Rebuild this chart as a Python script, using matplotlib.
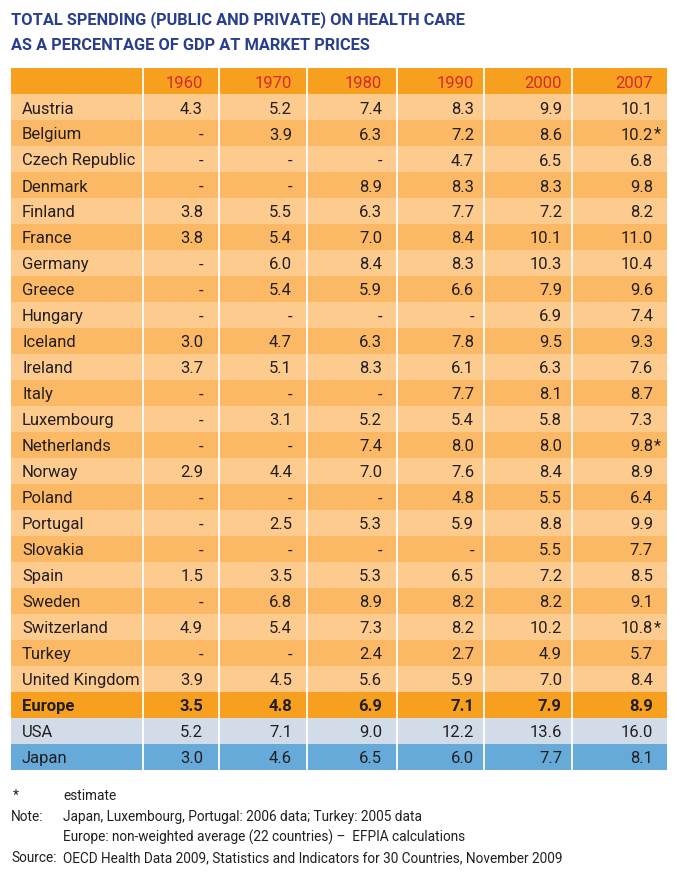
import matplotlib
matplotlib.use("Agg")
import matplotlib.pyplot as plt
from matplotlib.patches import Rectangle

years = ["1960", "1970", "1980", "1990", "2000", "2007"]
countries = ["Austria", "Belgium", "Czech Republic", "Denmark", "Finland", "France",
             "Germany", "Greece", "Hungary", "Iceland", "Ireland", "Italy", "Luxembourg",
             "Netherlands", "Norway", "Poland", "Portugal", "Slovakia", "Spain", "Sweden",
             "Switzerland", "Turkey", "United Kingdom"]
v1960 = [4.3, None, None, None, 3.8, 3.8, None, None, None, 3.0, 3.7, None, None,
         None, 2.9, None, None, None, 1.5, None, 4.9, None, 3.9]
v1970 = [5.2, 3.9, None, None, 5.5, 5.4, 6.0, 5.4, None, 4.7, 5.1, None, 3.1,
         None, 4.4, None, 2.5, None, 3.5, 6.8, 5.4, None, 4.5]
v1980 = [7.4, 6.3, None, 8.9, 6.3, 7.0, 8.4, 5.9, None, 6.3, 8.3, None, 5.2,
         7.4, 7.0, None, 5.3, None, 5.3, 8.9, 7.3, 2.4, 5.6]
v1990 = [8.3, 7.2, 4.7, 8.3, 7.7, 8.4, 8.3, 6.6, None, 7.8, 6.1, 7.7, 5.4,
         8.0, 7.6, 4.8, 5.9, None, 6.5, 8.2, 8.2, 2.7, 5.9]
v2000 = [9.9, 8.6, 6.5, 8.3, 7.2, 10.1, 10.3, 7.9, 6.9, 9.5, 6.3, 8.1, 5.8,
         8.0, 8.4, 5.5, 8.8, 5.5, 7.2, 8.2, 10.2, 4.9, 7.0]
v2007 = [10.1, 10.2, 6.8, 9.8, 8.2, 11.0, 10.4, 9.6, 7.4, 9.3, 7.6, 8.7, 7.3,
         9.8, 8.9, 6.4, 9.9, 7.7, 8.5, 9.1, 10.8, 5.7, 8.4]
estimate_2007 = ["Belgium", "Netherlands", "Switzerland"]

summary_rows = ["Europe", "USA", "Japan"]
europe = [3.5, 4.8, 6.9, 7.1, 7.9, 8.9]
usa = [5.2, 7.1, 9.0, 12.2, 13.6, 16.0]
japan = [3.0, 4.6, 6.5, 6.0, 7.7, 8.1]

title_lines = ["TOTAL SPENDING (PUBLIC AND PRIVATE) ON HEALTH CARE",
               "AS A PERCENTAGE OF GDP AT MARKET PRICES"]
footnotes = [("*", "estimate"),
             ("Note:", "Japan, Luxembourg, Portugal: 2006 data; Turkey: 2005 data"),
             ("", "Europe: non-weighted average (22 countries) \u2013  EFPIA calculations"),
             ("Source:", "OECD Health Data 2009, Statistics and Indicators for 30 Countries, November 2009")]

# ---- styling / layout ----
FONT = "Roboto"
W, H = 682, 878
col_edges = [11, 143, 219, 307, 397, 484, 572, 667]
num_right = [203, 292, 382, 474, 562, 653]
top = 69
row_h = 26
C_HEAD = "#F7A01F"
C_LIGHT = "#FECB8E"
C_DARK = "#FCB965"
C_EUROPE = "#F7A01F"
C_USA = "#D2DCE8"
C_JAPAN = "#66AADA"
C_TEXT = "#231F20"
C_YEAR = "#D7282F"
C_TITLE = "#2A3F8C"

fig = plt.figure(figsize=(W / 100, H / 100), dpi=100)
ax = fig.add_axes([0, 0, 1, 1])
ax.set_xlim(0, W)
ax.set_ylim(H, 0)
ax.axis("off")

def fmt(v):
    return "-" if v is None else f"{v:.1f}"

# title
for i, t in enumerate(title_lines):
    ax.text(11, 20 + i * 25, t, fontsize=11.8, fontweight="bold", color=C_TITLE,
            family=FONT, va="center", ha="left")

# header
ax.add_patch(Rectangle((col_edges[0], top), col_edges[-1] - col_edges[0], row_h + 1,
                       facecolor=C_HEAD, edgecolor="none"))
for j, y in enumerate(years):
    ax.text(num_right[j], top + row_h / 2 + 1, y, color=C_YEAR, fontsize=12,
            family=FONT, ha="right", va="center")

all_rows = []
cols = list(zip(v1960, v1970, v1980, v1990, v2000, v2007))
for i, c in enumerate(countries):
    all_rows.append((c, cols[i], C_LIGHT if i % 2 == 0 else C_DARK, "normal"))
all_rows.append((summary_rows[0], europe, C_EUROPE, "bold"))
all_rows.append((summary_rows[1], usa, C_USA, "normal"))
all_rows.append((summary_rows[2], japan, C_JAPAN, "normal"))

for i, (name, vals, color, weight) in enumerate(all_rows):
    y0 = top + row_h * (i + 1)
    ax.add_patch(Rectangle((col_edges[0], y0), col_edges[-1] - col_edges[0], row_h,
                           facecolor=color, edgecolor="none"))
    yc = y0 + row_h / 2 + 1
    ax.text(22, yc, name, color=C_TEXT, fontsize=12, family=FONT, ha="left",
            va="center", fontweight=weight)
    for j, v in enumerate(vals):
        ax.text(num_right[j], yc, fmt(v), color=C_TEXT, fontsize=12, family=FONT,
                ha="right", va="center", fontweight=weight)
    if name in estimate_2007:
        ax.text(num_right[-1] + 0.5, yc - 1, "*", color=C_TEXT, fontsize=12,
                family=FONT, ha="left", va="center")

bottom = top + row_h * len(all_rows) + row_h
for x in col_edges[1:-1]:
    ax.plot([x, x], [top, bottom], color="white", lw=1.3, solid_capstyle="butt")

# footnotes
fy = [796, 817, 837, 858]
for (lab, txt), y in zip(footnotes, fy):
    ax.text(11 if lab != "*" else 13, y, lab, fontsize=9.8, family=FONT, color=C_TEXT,
            ha="left", va="center")
    ax.text(63, y, txt, fontsize=9.8, family=FONT, color=C_TEXT, ha="left", va="center")

fig.savefig("out.png", dpi=100)
